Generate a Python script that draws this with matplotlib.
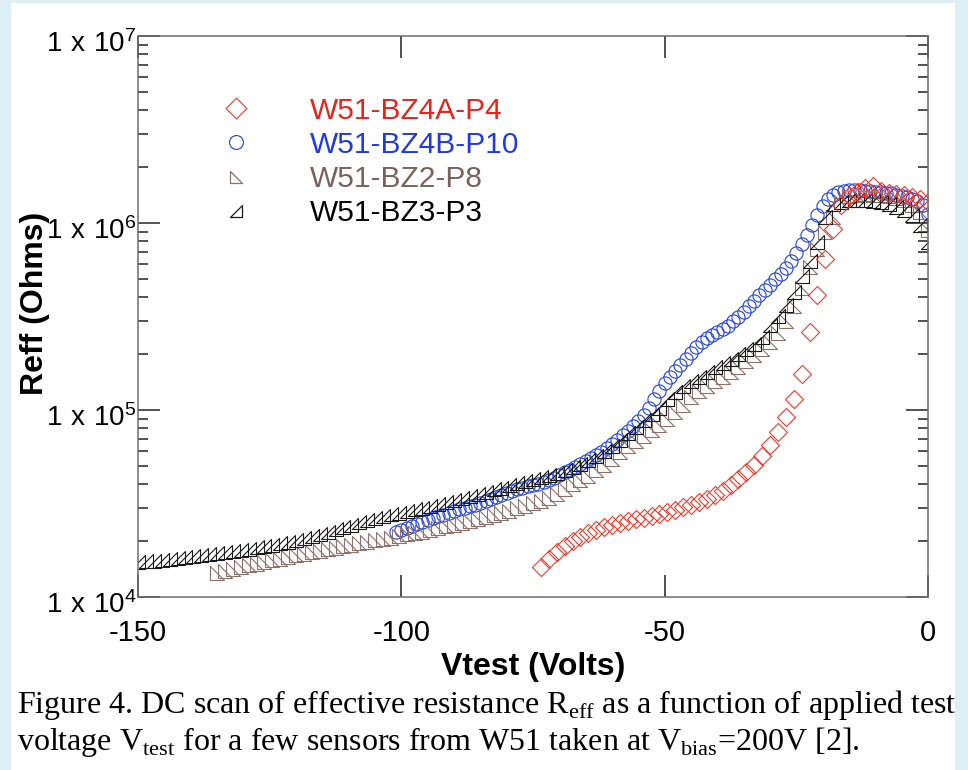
import numpy as np
import matplotlib
matplotlib.use('Agg')
import matplotlib.pyplot as plt
import matplotlib.transforms as mtransforms
from matplotlib.path import Path
from matplotlib.lines import Line2D
from matplotlib.patches import Rectangle
from matplotlib.ticker import FixedLocator, FixedFormatter, NullLocator, NullFormatter, LogLocator

plt.rcParams['font.family'] = ['Liberation Sans', 'DejaVu Sans']
plt.rcParams['axes.unicode_minus'] = False

# test voltage sweep, 1.5 V steps (BZ3 full range, BZ2 and BZ4A use the tail)
vtest_15 = [-150, -148.5, -147, -145.5, -144, -142.5, -141, -139.5, -138, -136.5,
            -135, -133.5, -132, -130.5, -129, -127.5, -126, -124.5, -123, -121.5,
            -120, -118.5, -117, -115.5, -114, -112.5, -111, -109.5, -108, -106.5,
            -105, -103.5, -102, -100.5, -99, -97.5, -96, -94.5, -93, -91.5,
            -90, -88.5, -87, -85.5, -84, -82.5, -81, -79.5, -78, -76.5,
            -75, -73.5, -72, -70.5, -69, -67.5, -66, -64.5, -63, -61.5,
            -60, -58.5, -57, -55.5, -54, -52.5, -51, -49.5, -48, -46.5,
            -45, -43.5, -42, -40.5, -39, -37.5, -36, -34.5, -33, -31.5,
            -30, -28.5, -27, -25.5, -24, -22.5, -21, -19.5, -18, -16.5,
            -15, -13.5, -12, -10.5, -9, -7.5, -6, -4.5, -3, -1.5,
            0]

# test voltage sweep, 1 V steps (BZ4B)
vtest_10 = [-101, -100, -99, -98, -97, -96, -95, -94, -93, -92,
            -91, -90, -89, -88, -87, -86, -85, -84, -83, -82,
            -81, -80, -79, -78, -77, -76, -75, -74, -73, -72,
            -71, -70, -69, -68, -67, -66, -65, -64, -63, -62,
            -61, -60, -59, -58, -57, -56, -55, -54, -53, -52,
            -51, -50, -49, -48, -47, -46, -45, -44, -43, -42,
            -41, -40, -39, -38, -37, -36, -35, -34, -33, -32,
            -31, -30, -29, -28, -27, -26, -25, -24, -23, -22,
            -21, -20, -19, -18, -17, -16, -15, -14, -13, -12,
            -11, -10, -9, -8, -7, -6, -5, -4, -3, -2,
            -1, 0]

# Reff in Ohms
reff_bz4a_p4 = [14500, 16000, 17400, 18800, 20000, 21000, 22000, 22800, 23700, 24400,
                25000, 25500, 26000, 26600, 27200, 27800, 28500, 29300, 30200, 31200,
                32300, 33600, 35200, 37000, 39500, 42500, 46500, 51000, 57000, 65000,
                76000, 92000, 115000, 155000, 260000, 410000, 640000, 930000, 1250000, 1400000,
                1460000, 1540000, 1580000, 1480000, 1450000, 1430000, 1410000, 1380000, 1340000, 1290000]

reff_bz4b_p10 = [22300, 22900, 23400, 24000, 24600, 25200, 25800, 26400, 27000, 27600,
                 28300, 28900, 29400, 30000, 30600, 31200, 32000, 32700, 33500, 34300,
                 35100, 35900, 36800, 37600, 38300, 39000, 39700, 40400, 41200, 42100,
                 43300, 44800, 46400, 48000, 49700, 51400, 53200, 55200, 57300, 59800,
                 62500, 65800, 69500, 73500, 77500, 82000, 87500, 94000, 103000, 114000,
                 127000, 139000, 150000, 162000, 175000, 188000, 202000, 217000, 232000, 244000,
                 253000, 262000, 271000, 283000, 298000, 316000, 336000, 358000, 382000, 410000,
                 438000, 468000, 500000, 535000, 575000, 625000, 690000, 770000, 860000, 980000,
                 1110000, 1230000, 1340000, 1420000, 1470000, 1490000, 1500000, 1500000, 1500000, 1490000,
                 1480000, 1470000, 1460000, 1450000, 1440000, 1420000, 1400000, 1380000, 1350000, 1310000,
                 1250000, 1120000]

reff_bz2_p8 = [13500, 13800, 14100, 14400, 14800, 15100, 15400, 15700, 16000, 16300,
               16700, 17000, 17300, 17700, 18000, 18300, 18700, 19000, 19400, 19700,
               20100, 20400, 20800, 21200, 21600, 22000, 22400, 22900, 23400, 23900,
               24400, 25000, 25600, 26200, 26800, 27500, 28200, 29000, 29800, 30700,
               31700, 32800, 34000, 35500, 38000, 40000, 42000, 44500, 47500, 51000,
               55000, 59500, 64000, 68500, 73000, 78000, 83000, 90000, 98000, 107000,
               117000, 127000, 135000, 143000, 151000, 160000, 170000, 182000, 196000, 212000,
               232000, 258000, 300000, 360000, 450000, 580000, 730000, 900000, 1080000, 1300000,
               1400000, 1420000, 1430000, 1420000, 1410000, 1390000, 1360000, 1320000, 1250000, 1150000,
               920000]

reff_bz3_p3 = [15350, 15500, 15650, 15800, 16000, 16200, 16400, 16600, 16800, 17000,
               17200, 17400, 17600, 17900, 18100, 18400, 18700, 19000, 19400, 19800,
               20200, 20700, 21200, 21800, 22400, 23000, 23700, 24400, 25100, 25800,
               26500, 27200, 27800, 28300, 28800, 29400, 30000, 30700, 31400, 32200,
               33000, 33900, 34800, 35700, 36600, 37600, 38500, 39500, 40500, 41600,
               42700, 43800, 45000, 46300, 47700, 49500, 51500, 54000, 57000, 60500,
               64500, 69500, 75000, 81000, 88000, 95000, 103000, 114000, 125000, 134000,
               143000, 151000, 160000, 169000, 178000, 188000, 199000, 211000, 225000, 245000,
               285000, 320000, 365000, 430000, 520000, 630000, 790000, 1080000, 1260000, 1300000,
               1320000, 1320000, 1320000, 1310000, 1290000, 1260000, 1220000, 1170000, 1100000, 980000,
               790000]

xticks = [-150, -100, -50, 0]
yticks = [1e4, 1e5, 1e6, 1e7]
ytick_labels = [r'$\mathregular{1\ x\ 10^4}$', r'$\mathregular{1\ x\ 10^5}$',
                r'$\mathregular{1\ x\ 10^6}$', r'$\mathregular{1\ x\ 10^7}$']

# IDL-like symbols
diamond = Path([(0, -0.5), (0.5, 0), (0, 0.5), (-0.5, 0), (0, -0.5)], closed=True)
tri_left = Path([(-0.5, 0.5), (-0.5, -0.5), (0.5, -0.5), (-0.5, 0.5)], closed=True)
tri_right = Path([(-0.5, -0.5), (0.5, -0.5), (0.5, 0.5), (-0.5, -0.5)], closed=True)

red, blue, brown, black = '#f03a2c', '#2242e0', '#8c726b', '#1a1a1a'

fig = plt.figure(figsize=(9.68, 7.70), dpi=100)
fig.patch.set_facecolor('#ddeef5')
fig.patches.append(Rectangle((11/968, 0), (955-11)/968, 1-3/770, transform=fig.transFigure,
                             facecolor='white', edgecolor='none', zorder=-5))

ax = fig.add_axes([138/968, 1-597/770, (928-138)/968, (597-36)/770])
ax.set_facecolor('white')

# blue goes underneath the triangles, as in the original
sets = [
    (vtest_10, reff_bz4b_p10, 'o', 9.5, blue),
    (vtest_15[10:], reff_bz2_p8, tri_left, 10.5, brown),
    (vtest_15, reff_bz3_p3, tri_right, 10.5, black),
    (vtest_15[51:], reff_bz4a_p4, diamond, 13, red),
]
for v, r, m, ms, c in sets:
    ax.plot(v, r, ls='none', marker=m, ms=ms, mfc='none', mec=c, mew=0.8)

ax.set_yscale('log')
ax.set_xlim(-150, 0)
ax.set_ylim(1e4, 1e7)

ax.xaxis.set_major_locator(FixedLocator(xticks))
ax.xaxis.set_minor_locator(NullLocator())
ax.yaxis.set_major_locator(FixedLocator(yticks))
ax.yaxis.set_major_formatter(FixedFormatter(ytick_labels))
ax.yaxis.set_minor_locator(LogLocator(base=10, subs=np.arange(2, 10)))
ax.yaxis.set_minor_formatter(NullFormatter())

ax.tick_params(which='both', direction='in', top=True, right=True, color='#222222', width=1.1)
ax.tick_params(which='major', length=16)
ax.tick_params(which='minor', length=7.5)
ax.tick_params(axis='x', labelsize=21, pad=16)
ax.tick_params(axis='y', labelsize=20, pad=1)
for s in ax.spines.values():
    s.set_color('#6e6e6e')
    s.set_linewidth(1.1)

# y labels in the original sit a little below their ticks
shift = mtransforms.ScaledTranslation(0, -4/72, fig.dpi_scale_trans)
for lab in ax.get_yticklabels():
    lab.set_transform(lab.get_transform() + shift)

ax.set_xlabel('Vtest (Volts)', fontsize=23, fontweight='bold')
ax.xaxis.set_label_coords(0.5, -0.098)
ax.set_ylabel('Reff (Ohms)', fontsize=23, fontweight='bold', va='center')
ax.yaxis.set_label_coords(-0.131, 0.524)

names = ['W51-BZ4A-P4', 'W51-BZ4B-P10', 'W51-BZ2-P8', 'W51-BZ3-P3']
handles = [
    Line2D([], [], ls='none', marker=diamond, ms=15, mfc='none', mec=red, mew=0.8, label=names[0]),
    Line2D([], [], ls='none', marker='o', ms=10, mfc='none', mec=blue, mew=0.8, label=names[1]),
    Line2D([], [], ls='none', marker=tri_left, ms=9, mfc='none', mec=brown, mew=0.9, label=names[2]),
    Line2D([], [], ls='none', marker=tri_right, ms=9, mfc='none', mec=black, mew=0.9, label=names[3]),
]
ax.legend(handles=handles, loc='upper left', bbox_to_anchor=(0.105, 0.892), frameon=False,
          fontsize=21.5, handlelength=1.0, handletextpad=1.97, labelspacing=0.21,
          borderpad=0, borderaxespad=0,
          labelcolor=['#e8231a', '#1e3ae0', '#7a625c', 'black'])

cap = dict(family=['Liberation Serif', 'DejaVu Serif'], fontsize=23, color='black', va='baseline')
fig.text(17/968, 1-713/770,
         r'Figure 4. DC scan of effective resistance R$_\mathregular{eff}$ as a function of applied test',
         **cap)
fig.text(17/968, 1-750/770,
         r'voltage V$_\mathregular{test}$ for a few sensors from W51 taken at V$_\mathregular{bias}$=200V [2].',
         **cap)

fig.savefig('out.png', dpi=100, facecolor=fig.get_facecolor())
